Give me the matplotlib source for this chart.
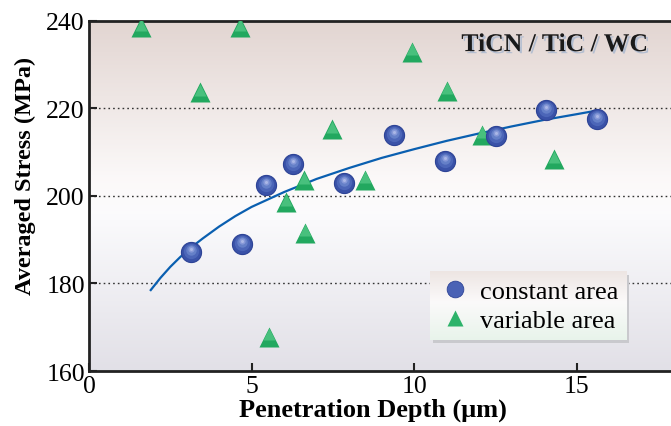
import numpy as np
import matplotlib
matplotlib.use("Agg")
import matplotlib.pyplot as plt
import matplotlib.patheffects as pe
from matplotlib.lines import Line2D
from matplotlib.patches import Rectangle
from matplotlib.transforms import offset_copy

plt.rcParams['font.family'] = ['Liberation Serif', 'DejaVu Serif']

# constant area (spheres)
const_x = [3.14, 4.71, 5.45, 6.28, 7.85, 9.38, 10.95, 12.52, 14.06, 15.63]
const_y = [187.2, 189.0, 202.6, 207.3, 203.0, 214.0, 208.0, 213.7, 219.7, 217.6]

# variable area (triangles)
var_x = [1.6, 4.65, 3.4, 9.94, 11.0, 7.48, 12.1, 14.3, 6.6, 8.5, 6.06, 6.65, 5.54]
var_y = [238.6, 238.6, 223.7, 233.0, 224.0, 215.3, 214.0, 208.4, 203.6, 203.7, 198.6, 191.6, 167.8]

# fitted curve
fit_x = [1.9, 2.2, 2.5, 2.8, 3.1, 3.5, 4.0, 4.5, 5.0, 6.0, 7.0, 8.0, 9.0, 10.0, 11.0, 12.0, 13.0, 14.0, 15.0, 15.6]
fit_y = [178.5, 181.3, 183.8, 186.0, 188.0, 190.3, 193.0, 195.4, 197.5, 200.9, 203.9, 206.4, 208.7, 210.7,
         212.6, 214.3, 215.9, 217.4, 218.7, 219.5]

xmax = 17.9
fig = plt.figure(figsize=(6.71, 4.27), dpi=100)
ax = fig.add_axes([0.1326, 0.1288, 1.0 - 0.1326, 0.8197])

# background gradient of the plot area (row 0 = top)
yy = np.linspace(0, 1, 256)
stops = [0.0, 0.45, 0.55, 1.0]
top = np.array([0.886, 0.835, 0.82])
mid1 = np.array([0.985, 0.975, 0.975])
mid2 = np.array([0.985, 0.985, 0.992])
bot = np.array([0.885, 0.878, 0.905])
cols = np.array([top, mid1, mid2, bot])
grad = np.stack([np.interp(yy, stops, cols[:, k]) for k in range(3)], axis=1)
ax.imshow(grad[:, None, :], extent=[0, xmax, 160, 240], origin='upper', aspect='auto', zorder=0)

for g in [180, 200, 220]:
    ax.axhline(g, color='#333333', lw=1.0, ls=(0, (1.2, 2.2)), zorder=1)

ax.plot(fit_x, fit_y, color='#0a5fb0', lw=1.6, zorder=2)

# triangles with a lighter top
ax.plot(var_x, var_y, ls='none', marker='^', ms=14, color='#22a85f', mec='none', zorder=3)
tr_up = offset_copy(ax.transData, fig=fig, x=0, y=1.8, units='points')
ax.plot(var_x, var_y, ls='none', marker='^', ms=8, color='#48c07d', mec='none', zorder=3, transform=tr_up)

# shaded spheres
ax.plot(const_x, const_y, ls='none', marker='o', ms=14.5, color='#3a52a8', mec='#2d4396', mew=0.8, zorder=4)
for ms, c, dy in [(11, '#4c66b8', 0.8), (7.5, '#6580c8', 1.4), (4.5, '#8799d8', 1.9), (2.2, '#aab7e6', 2.2)]:
    tr = offset_copy(ax.transData, fig=fig, x=0, y=dy, units='points')
    ax.plot(const_x, const_y, ls='none', marker='o', ms=ms, color=c, mec='none', zorder=4, transform=tr)

ax.set_xlim(0, xmax)
ax.set_ylim(160, 240)
ax.set_xticks([0, 5, 10, 15])
ax.set_yticks([160, 180, 200, 220, 240])
ax.tick_params(direction='in', length=6, width=1.5, labelsize=18.5, color='#222222', pad=3)
for s in ['left', 'bottom', 'top']:
    ax.spines[s].set_linewidth(2)
    ax.spines[s].set_color('#222222')
ax.spines['right'].set_visible(False)

ax.set_xlabel('Penetration Depth (μm)', fontsize=19, fontweight='bold', labelpad=0, x=0.488)
ax.set_ylabel('Averaged Stress (MPa)', fontsize=17.5, fontweight='bold', labelpad=7, y=0.56)

ax.text(17.2, 234.6, 'TiCN / TiC / WC', fontsize=18.5, fontweight='bold', ha='right', va='center',
        color='#1a1a1a', zorder=6,
        path_effects=[pe.withSimplePatchShadow(offset=(1.5, -1.5), shadow_rgbFace='#aebbd0', alpha=0.9)])

handles = [Line2D([], [], ls='none', marker='o', ms=12, color='#4a62b5', mec='#2d4396', mew=0.6),
           Line2D([], [], ls='none', marker='^', ms=12, color='#2db36a', mec='none')]
leg = ax.legend(handles, ['constant area', 'variable area'], loc='lower left',
                bbox_to_anchor=(0.586, 0.089), borderaxespad=0, fontsize=19,
                frameon=True, fancybox=False, handletextpad=0.3, borderpad=0.3,
                labelspacing=0.2, handlelength=1.3)
leg.set_zorder(7)
leg.get_frame().set_alpha(0)
leg.get_frame().set_edgecolor('none')

fig.canvas.draw()
bb = leg.get_window_extent().transformed(ax.transData.inverted())
x0, x1 = bb.x0, bb.x1
y0, y1 = bb.y0, bb.y1
sx = 3 / 32.5
sy = 3 / 4.375
ax.add_patch(Rectangle((x0 + sx, y0 - sy), x1 - x0, y1 - y0, color='#c9c9cd', lw=0, zorder=5))
lg = np.array([[0.93, 0.90, 0.89], [0.985, 0.98, 0.98], [0.91, 0.955, 0.92]])
ly = np.linspace(0, 1, 128)
lgrad = np.stack([np.interp(ly, [0, 0.45, 1], lg[:, k]) for k in range(3)], axis=1)
ax.imshow(lgrad[:, None, :], extent=[x0, x1, y0, y1], origin='upper', aspect='auto', zorder=6)
ax.set_xlim(0, xmax)
ax.set_ylim(160, 240)

fig.savefig('out.png', dpi=100)
